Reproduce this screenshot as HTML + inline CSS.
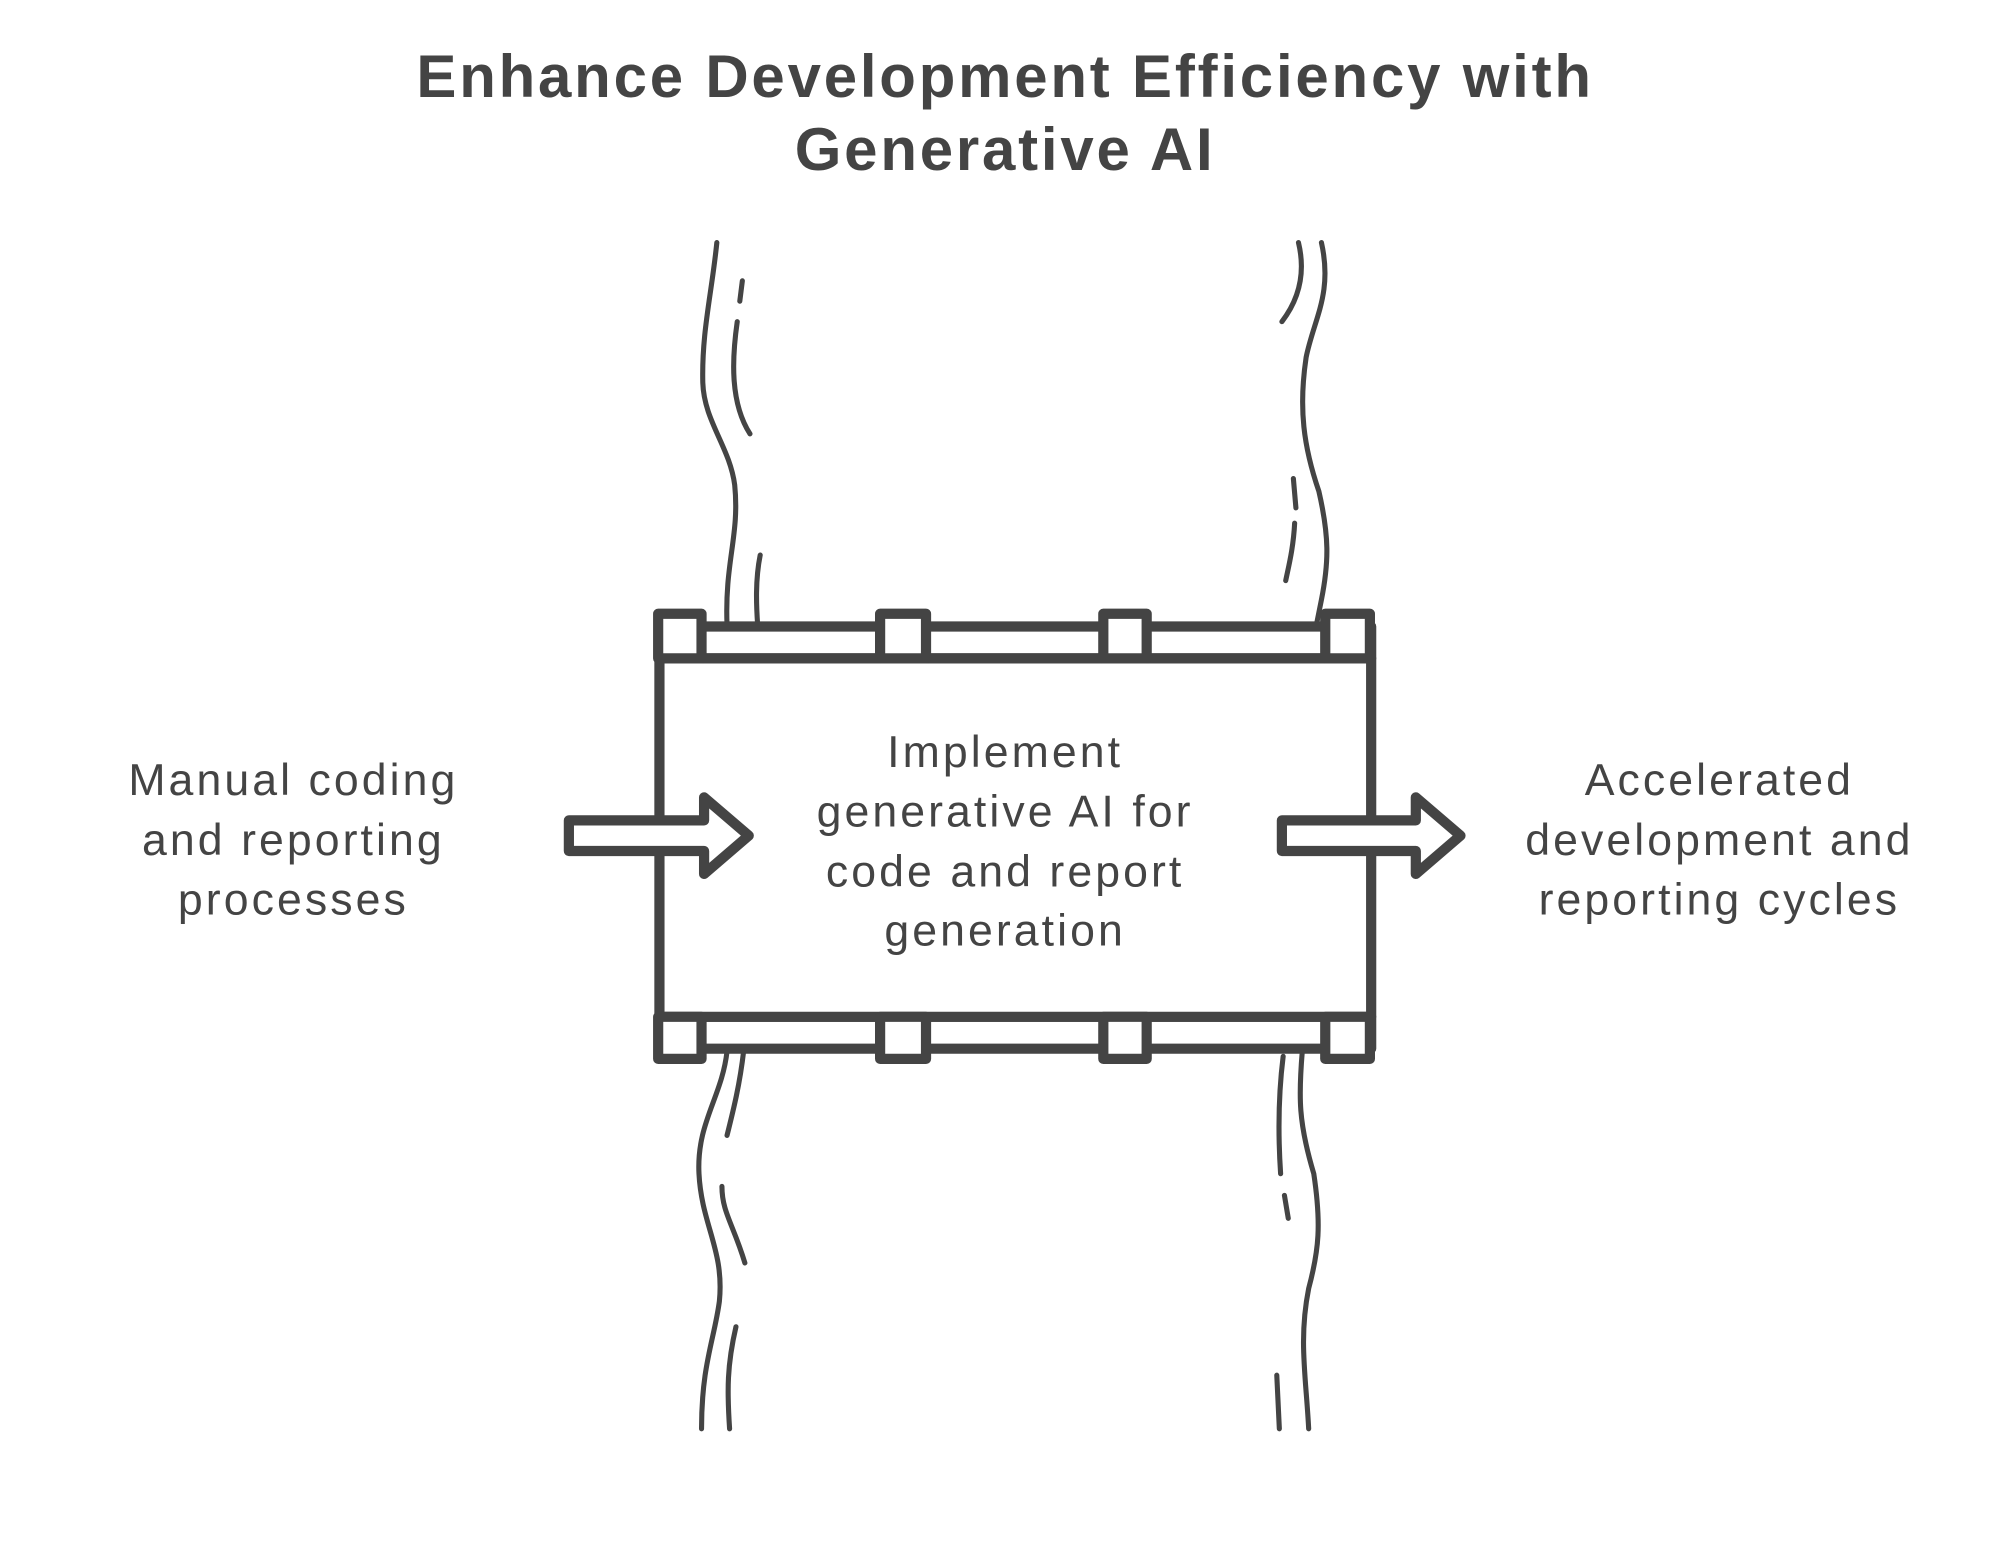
<!DOCTYPE html>
<html><head><style>
html,body{margin:0;padding:0;background:#fff;}
svg{display:block}
text{font-family:"Liberation Sans",sans-serif;fill:#444;}
</style></head><body>
<svg width="2000" height="1554" viewBox="0 0 1568 1218" xmlns="http://www.w3.org/2000/svg">
<rect width="1568" height="1218" fill="#fff"/>
<text x="788" y="76" text-anchor="middle" font-size="47" font-weight="bold" letter-spacing="2.2">Enhance Development Efficiency with</text>
<text x="788" y="133" text-anchor="middle" font-size="47" font-weight="bold" letter-spacing="2.2">Generative AI</text>
<g fill="none" stroke="#444" stroke-width="4" stroke-linecap="round">
<path d="M562 190 C558 230 550 260 551 300 C552 330 572 350 576 380 C580 420 568 440 570 490"/>
<path d="M582 220 L580 236 M578 252 C574 280 572 315 588 340 M596 435 C592 455 593 475 594 490"/>
<path d="M1036 190 C1045 230 1030 250 1024 280 C1018 320 1022 350 1034 385 C1042 420 1042 440 1036 470 L1032 490"/>
<path d="M1018 190 C1024 215 1018 235 1005 252 M1014 375 L1016 398 M1015 410 C1014 430 1010 445 1008 455"/>
<path d="M570 824 C566 860 546 880 548 920 C550 960 568 980 564 1020 C560 1050 550 1070 550 1120"/>
<path d="M583 824 C580 850 575 870 570 890 M566 930 C566 950 575 960 584 990 M577 1040 C570 1070 570 1090 572 1120"/>
<path d="M1021 824 C1018 860 1018 880 1030 920 C1036 960 1034 980 1026 1010 C1018 1050 1024 1080 1026 1120"/>
<path d="M1006 828 C1002 860 1002 890 1004 920 M1007 937 L1010 955 M1001 1078 L1003 1120"/>
</g>
<g fill="#fff" stroke="#444" stroke-width="8" stroke-linejoin="round">
<rect x="517" y="491" width="558" height="25"/>
<rect x="517" y="797" width="558" height="25"/>
<rect x="517" y="516" width="558" height="281"/>
<rect x="516" y="481" width="34" height="35"/>
<rect x="690" y="481" width="36" height="35"/>
<rect x="865" y="481" width="34" height="35"/>
<rect x="1039" y="481" width="35" height="35"/>
<rect x="516" y="797" width="34" height="33"/>
<rect x="690" y="797" width="36" height="33"/>
<rect x="865" y="797" width="34" height="33"/>
<rect x="1039" y="797" width="35" height="33"/>
<path d="M446 643 L552 643 L552 625 L587 655 L552 685 L552 667 L446 667 Z"/>
<path d="M1005 643 L1110 643 L1110 625 L1145 655 L1110 685 L1110 667 L1005 667 Z"/>
</g>
<g font-size="35" text-anchor="middle" letter-spacing="2.4">
<text x="788" y="601">Implement</text>
<text x="788" y="648">generative AI for</text>
<text x="788" y="695">code and report</text>
<text x="788" y="741">generation</text>
<text x="230" y="623">Manual coding</text>
<text x="230" y="670">and reporting</text>
<text x="230" y="717">processes</text>
<text x="1348" y="623">Accelerated</text>
<text x="1348" y="670">development and</text>
<text x="1348" y="717">reporting cycles</text>
</g>
</svg>
</body></html>
